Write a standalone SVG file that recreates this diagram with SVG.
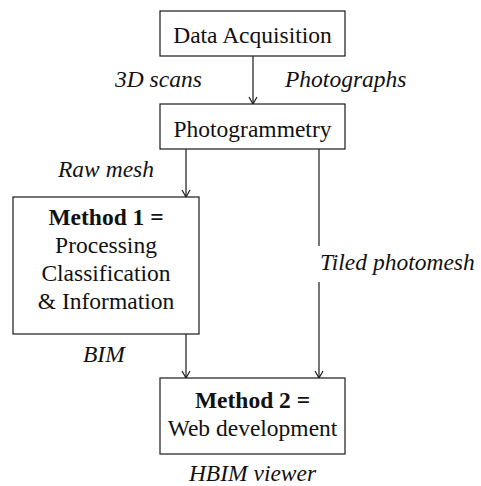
<svg xmlns="http://www.w3.org/2000/svg" width="481" height="486" viewBox="0 0 481 486">
  <defs>
    <style>
      .box { fill: #ffffff; stroke: #1a1a1a; stroke-width: 1.2; }
      text { font-family: 'Liberation Serif', 'Times New Roman', serif; font-size: 23.5px; fill: #111111; }
      .txt { text-anchor: middle; }
      .lbl { font-style: italic; }
      .b { font-weight: bold; }
      .edge { fill: none; stroke: #1a1a1a; stroke-width: 1.2; }
    </style>
    <marker id="arrow" viewBox="0 0 10 10" refX="9" refY="5" markerWidth="10" markerHeight="10" markerUnits="userSpaceOnUse" orient="auto">
      <path d="M2,1 L9,5 L2,9" fill="none" stroke="#1a1a1a" stroke-width="1.2"/>
    </marker>
  </defs>
  <rect width="481" height="486" fill="#ffffff"/>

  <g id="connectors">
    <line class="edge" x1="253" y1="56" x2="253" y2="104" marker-end="url(#arrow)"/>
    <line class="edge" x1="186" y1="149" x2="186" y2="197" marker-end="url(#arrow)"/>
    <line class="edge" x1="319" y1="149" x2="319" y2="246"/>
    <line class="edge" x1="319" y1="282" x2="319" y2="378" marker-end="url(#arrow)"/>
    <line class="edge" x1="186" y1="334" x2="186" y2="378" marker-end="url(#arrow)"/>
    <text class="lbl" x="115" y="87">3D scans</text>
    <text class="lbl" x="285" y="87">Photographs</text>
    <text class="lbl" x="58" y="177">Raw mesh</text>
    <text class="lbl" x="320" y="270">Tiled photomesh</text>
    <text class="lbl" x="83" y="362">BIM</text>
    <text class="lbl txt" x="252.5" y="481">HBIM viewer</text>
  </g>

  <g id="data-acquisition">
    <rect class="box" x="160" y="11" width="185" height="45"/>
    <text class="txt" x="252.5" y="43">Data Acquisition</text>
  </g>

  <g id="photogrammetry">
    <rect class="box" x="160" y="104" width="185" height="45"/>
    <text class="txt" x="252.5" y="137">Photogrammetry</text>
  </g>

  <g id="method-1">
    <rect class="box" x="13" y="197" width="186" height="137"/>
    <text class="txt b" x="106" y="225">Method 1 =</text>
    <text class="txt" x="106" y="253">Processing</text>
    <text class="txt" x="106" y="281">Classification</text>
    <text class="txt" x="106" y="309">&amp; Information</text>
  </g>

  <g id="method-2">
    <rect class="box" x="160" y="378" width="185" height="76"/>
    <text class="txt b" x="252.5" y="408">Method 2 =</text>
    <text class="txt" x="252.5" y="436">Web development</text>
  </g>
</svg>
